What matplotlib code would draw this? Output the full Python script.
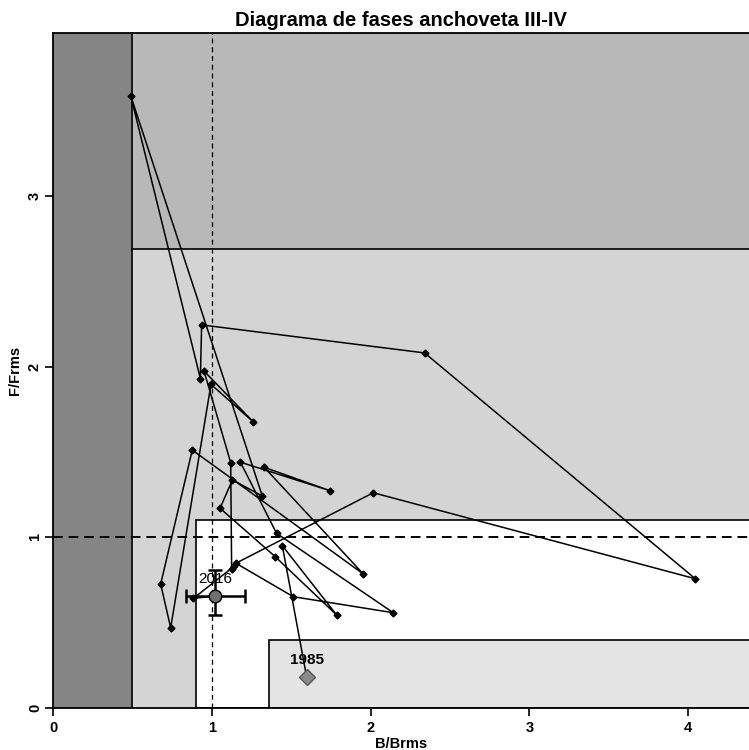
import numpy as np
import matplotlib.pyplot as plt
from matplotlib.patches import Rectangle

plt.rcParams['font.family'] = ['Liberation Sans', 'DejaVu Sans']

# B/Brms and F/Frms per year
years = list(range(1985, 2017))
b_ratio = [1.597, 1.444, 1.786, 1.400, 1.052, 1.130, 1.318, 0.490,
           0.928, 0.936, 2.340, 4.045, 2.017, 1.152, 1.513, 2.143,
           1.408, 1.180, 1.744, 1.330, 1.954, 0.877, 0.678, 0.741,
           0.995, 1.260, 0.951, 1.119, 1.125, 1.140, 0.884, 1.020]
f_ratio = [0.183, 0.951, 0.545, 0.886, 1.170, 1.336, 1.242, 3.585,
           1.930, 2.244, 2.080, 0.757, 1.261, 0.848, 0.652, 0.558,
           1.023, 1.440, 1.273, 1.410, 0.785, 1.511, 0.726, 0.470,
           1.896, 1.677, 1.974, 1.437, 0.812, 0.830, 0.642, 0.656]

# last-year uncertainty
b_last_lo, b_last_hi = 0.84, 1.21
f_last_lo, f_last_hi = 0.545, 0.81

# reference limits of the zones
b_lim = 0.5
b_pa = 0.9
f_pa = 1.1
f_lim = 2.69
b_safe = 1.36
f_safe = 0.4

xmax, ymax = 4.383, 3.954

fig = plt.figure(figsize=(7.49, 7.5), dpi=100)
ax = fig.add_axes([53 / 749, 1 - 708 / 750, 1 - 53 / 749, (708 - 33) / 750])

# zones
ax.add_patch(Rectangle((0, 0), b_lim, ymax, facecolor='#858585', edgecolor='none', zorder=0))
ax.add_patch(Rectangle((b_lim, 0), xmax - b_lim, ymax, facecolor='#d4d4d4', edgecolor='none', zorder=0))
ax.add_patch(Rectangle((b_lim, f_lim), xmax - b_lim, ymax - f_lim, facecolor='#b8b8b8',
                       edgecolor='none', zorder=0))
ax.add_patch(Rectangle((b_pa, 0), xmax, f_pa, facecolor='white', edgecolor='black', lw=1.2, zorder=1))
ax.add_patch(Rectangle((b_safe, 0), xmax, f_safe, facecolor='#e4e4e4', edgecolor='black', lw=1.2, zorder=1))
ax.plot([b_lim, b_lim], [0, ymax], color='black', lw=1.2, zorder=1)
ax.plot([b_lim, xmax], [f_lim, f_lim], color='black', lw=1.2, zorder=1)

ax.axvline(1, color='black', lw=0.9, ls=(0, (4, 3)), zorder=2)
ax.axhline(1, color='black', lw=1.4, ls=(0, (5, 3)), zorder=2)

# trajectory
ax.plot(b_ratio, f_ratio, color='black', lw=1.1, marker='D', ms=3.5, zorder=3)

ax.errorbar(b_ratio[-1], f_ratio[-1],
            xerr=[[b_ratio[-1] - b_last_lo], [b_last_hi - b_ratio[-1]]],
            yerr=[[f_ratio[-1] - f_last_lo], [f_last_hi - f_ratio[-1]]],
            fmt='none', ecolor='black', elinewidth=1.8, capsize=5, capthick=1.8, zorder=4)
ax.plot(b_ratio[-1], f_ratio[-1], marker='o', ms=9, color='#707070', mec='black', mew=1, zorder=5)
ax.plot(b_ratio[0], f_ratio[0], marker='D', ms=8, color='#8a8a8a', mec='#555555', mew=1, zorder=5)

ax.text(b_ratio[-1], f_ratio[-1] + 0.06, str(years[-1]), ha='center', va='bottom', fontsize=11, zorder=6)
ax.text(b_ratio[0], f_ratio[0] + 0.06, str(years[0]), ha='center', va='bottom', fontsize=11,
        fontweight='bold', zorder=6)

ax.set_xlim(0, xmax)
ax.set_ylim(0, ymax)
ax.set_xticks([0, 1, 2, 3, 4])
ax.set_yticks([0, 1, 2, 3])
ax.tick_params(length=6, width=1.2, labelsize=10.5)
ax.tick_params(axis='y', pad=2)
for lab in ax.get_xticklabels():
    lab.set_fontweight('bold')
for lab in ax.get_yticklabels():
    lab.set_fontweight('bold')
    lab.set_rotation(90)
    lab.set_va('center')
ax.spines['right'].set_visible(False)
for s in ['left', 'bottom', 'top']:
    ax.spines[s].set_linewidth(1.3)

ax.set_xlabel('B/Brms', fontsize=10.5, fontweight='bold', labelpad=1)
ax.set_ylabel('F/Frms', fontsize=10.5, fontweight='bold', labelpad=4)
ax.set_title('Diagrama de fases anchoveta III-IV', fontsize=14.5, fontweight='bold', pad=5)

fig.savefig('out.png', dpi=100)
